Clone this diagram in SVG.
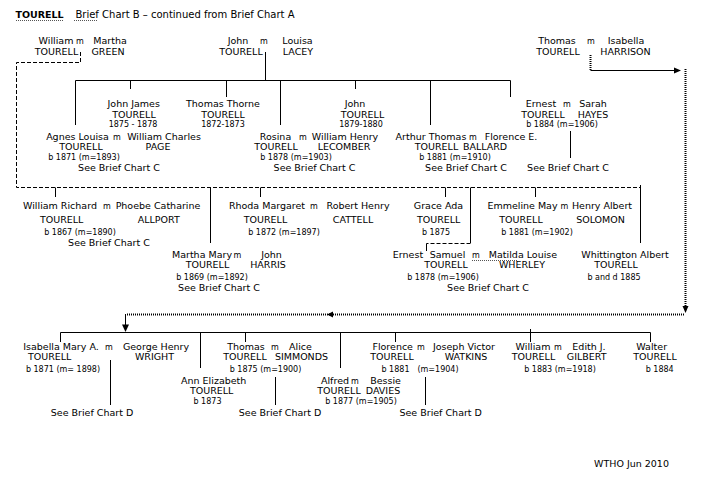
<svg xmlns="http://www.w3.org/2000/svg" width="710" height="484" viewBox="0 0 710 484">
<style>
.t{font-family:"DejaVu Sans","Liberation Sans",sans-serif;font-size:9.5px;fill:#000;text-anchor:middle}
.s{font-size:8px}
.m{font-size:8px}
.b{font-weight:bold}
.ttl{font-size:10px}
.ln{stroke:#000;stroke-width:1;fill:none}
.ds{stroke-dasharray:4 2}
.dt{stroke-width:2;stroke-dasharray:1 1}
.sq{stroke:#555;stroke-width:1;stroke-dasharray:1 1;fill:none}
.ah{fill:#000}
</style>
<rect width="710" height="484" fill="#fff"/>

<g id="title">
<text class="t b" x="39.5" y="18">TOURELL</text>
<text class="t ttl" x="185" y="18">Brief Chart B – continued from Brief Chart A</text>
<path class="sq" d="M16,20.5 H63 M74,20.5 H98"/>
</g>

<g id="connectors">
<path class="ln" d="M265.5,52 V80.5 M75.5,80.5 H510.5 M75.5,80.5 V125 M130.5,80.5 V89 M226.5,80.5 V97 M280.5,80.5 V125 M355.5,80.5 V89 M430.5,80.5 V125 M510.5,80.5 V97 M570.5,131 V158"/>
<path class="ln ds" d="M80.5,52 V62.5 H16.5 V187.5 H640.5"/>
<path class="ln" d="M55.5,187.5 V197 M260.5,187.5 V197 M445.5,187.5 V197 M535.5,187.5 V197 M210.5,187.5 V243 M470.5,187.5 V243 M640.5,185 V243 M426.5,243.5 V251"/>
<path class="ln ds" d="M470.5,243.5 H426.5"/>
<path class="ln" d="M60.5,332.5 H650.5 M60.5,332.5 V342 M200.5,332.5 V368 M245.5,332.5 V342 M340.5,332.5 V368 M395.5,332.5 V342 M530.5,329 V342 M650.5,332.5 V342 M110.5,360 V405 M275.5,377 V405 M425.5,377 V405"/>
<path class="ln dt" d="M590.5,55 V70"/>
<path class="ln" d="M590.5,70.5 H676"/>
<polygon class="ah" points="681,70.5 674,67.5 674,73.5"/>
<path class="ln dt" d="M685.5,69 V306"/>
<polygon class="ah" points="685.5,313 682.5,306 688.5,306"/>
<path class="ln dt" d="M684,314.5 H126"/>
<polygon class="ah" points="327,314.5 333,311.5 333,317.5"/>
<path class="ln" d="M125.5,314 V325"/>
<polygon class="ah" points="125.5,332 122,324.5 129,324.5"/>
</g>

<g id="n_william_martha">
<text class="t" x="56" y="44">William</text><text class="t m" x="80" y="44">m</text><text class="t" x="110" y="44">Martha</text>
<text class="t" x="56.5" y="55">TOURELL</text><text class="t" x="108" y="55">GREEN</text>
</g>
<g id="n_john_louisa">
<text class="t" x="238" y="44">John</text><text class="t m" x="264" y="44">m</text><text class="t" x="297.5" y="44">Louisa</text>
<text class="t" x="241" y="55">TOURELL</text><text class="t" x="298" y="55">LACEY</text>
</g>
<g id="n_thomas_isabella">
<text class="t" x="557" y="44">Thomas</text><text class="t m" x="591" y="44">m</text><text class="t" x="626" y="44">Isabella</text>
<text class="t" x="558" y="55">TOURELL</text><text class="t" x="625.5" y="55">HARRISON</text>
</g>

<g id="n_john_james">
<text class="t" x="133.7" y="107">John James</text>
<text class="t" x="134" y="117.5">TOURELL</text>
<text class="t s" x="133" y="127">1875 - 1878</text>
</g>
<g id="n_thomas_thorne">
<text class="t" x="223" y="107">Thomas Thorne</text>
<text class="t" x="223" y="117.5">TOURELL</text>
<text class="t s" x="223" y="127">1872-1873</text>
</g>
<g id="n_agnes">
<text class="t" x="77.5" y="139.5">Agnes Louisa</text><text class="t m" x="117" y="139.5">m</text><text class="t" x="164" y="139.5">William Charles</text>
<text class="t" x="81" y="150">TOURELL</text><text class="t" x="158" y="150">PAGE</text>
<text class="t s" x="84" y="159.5">b 1871 (m=1893)</text>
<text class="t" x="119" y="170.5">See Brief Chart C</text>
</g>
<g id="n_john2">
<text class="t" x="355" y="107">John</text>
<text class="t" x="362.5" y="117.5">TOURELL</text>
<text class="t s" x="361" y="127">1879-1880</text>
</g>
<g id="n_rosina">
<text class="t" x="275.5" y="139.5">Rosina</text><text class="t m" x="303" y="139.5">m</text><text class="t" x="345" y="139.5">William Henry</text>
<text class="t" x="276" y="150">TOURELL</text><text class="t" x="344" y="150">LECOMBER</text>
<text class="t s" x="296" y="159.5">b 1878 (m=1903)</text>
<text class="t" x="314.5" y="170.5">See Brief Chart C</text>
</g>
<g id="n_arthur">
<text class="t" x="431" y="139.5">Arthur Thomas</text><text class="t m" x="473" y="139.5">m</text><text class="t" x="511" y="139.5">Florence E.</text>
<text class="t" x="436.5" y="150">TOURELL</text><text class="t" x="485" y="150">BALLARD</text>
<text class="t s" x="455" y="159.5">b 1881 (m=1910)</text>
<text class="t" x="466" y="170.5">See Brief Chart C</text>
</g>
<g id="n_ernest_sarah">
<text class="t" x="541" y="107">Ernest</text><text class="t m" x="567" y="107">m</text><text class="t" x="593" y="107">Sarah</text>
<text class="t" x="543" y="117.5">TOURELL</text><text class="t" x="593" y="117.5">HAYES</text>
<text class="t s" x="562" y="127">b 1884 (m=1906)</text>
<text class="t" x="568" y="170.5">See Brief Chart C</text>
</g>

<g id="n_william_richard">
<text class="t" x="60" y="209">William Richard</text><text class="t m" x="107" y="209">m</text><text class="t" x="158" y="209">Phoebe Catharine</text>
<text class="t" x="61.7" y="223">TOURELL</text><text class="t" x="158.7" y="223">ALLPORT</text>
<text class="t s" x="80" y="235">b 1867 (m=1890)</text>
<text class="t" x="109" y="246">See Brief Chart C</text>
</g>
<g id="n_martha_mary">
<text class="t" x="202" y="257.5">Martha Mary</text><text class="t m" x="237.5" y="257.5">m</text><text class="t" x="271.5" y="257.5">John</text>
<text class="t" x="207.5" y="268">TOURELL</text><text class="t" x="268" y="268">HARRIS</text>
<text class="t s" x="212" y="279.5">b 1869 (m=1892)</text>
<text class="t" x="219" y="291">See Brief Chart C</text>
</g>
<g id="n_rhoda">
<text class="t" x="267" y="209">Rhoda Margaret</text><text class="t m" x="314" y="209">m</text><text class="t" x="358" y="209">Robert Henry</text>
<text class="t" x="265.5" y="223">TOURELL</text><text class="t" x="353" y="223">CATTELL</text>
<text class="t s" x="284" y="235">b 1872 (m=1897)</text>
</g>
<g id="n_grace">
<text class="t" x="438.5" y="209">Grace Ada</text>
<text class="t" x="438.7" y="223">TOURELL</text>
<text class="t s" x="436" y="235">b  1875</text>
</g>
<g id="n_ernest_samuel">
<text class="t" x="408" y="257.5">Ernest</text><text class="t" x="447.5" y="257.5">Samuel</text><text class="t m" x="476" y="257.5">m</text><text class="t" x="523" y="257.5">Matilda Louise</text>
<path class="sq" d="M472,260.5 H518"/>
<text class="t" x="446" y="268">TOURELL</text><text class="t" x="522" y="268">WHERLEY</text>
<text class="t s" x="443" y="279.5">b 1878 (m=1906)</text>
<text class="t" x="488" y="291">See Brief Chart C</text>
</g>
<g id="n_emmeline">
<text class="t" x="522.5" y="209">Emmeline May</text><text class="t m" x="564.5" y="209">m</text><text class="t" x="602" y="209">Henry Albert</text>
<text class="t" x="521" y="223">TOURELL</text><text class="t" x="600.5" y="223">SOLOMON</text>
<text class="t s" x="537" y="235">b 1881 (m=1902)</text>
</g>
<g id="n_whittington">
<text class="t" x="625" y="257.5">Whittington Albert</text>
<text class="t" x="616" y="268">TOURELL</text>
<text class="t s" x="614" y="279.5">b and d 1885</text>
</g>

<g id="n_isabella">
<text class="t" x="61" y="349.5">Isabella Mary A.</text><text class="t m" x="109" y="349.5">m</text><text class="t" x="156" y="349.5">George Henry</text>
<text class="t" x="49.7" y="360">TOURELL</text><text class="t" x="154.5" y="360">WRIGHT</text>
<text class="t s" x="63" y="371.5">b 1871 (m= 1898)</text>
<text class="t" x="92" y="416">See Brief Chart D</text>
</g>
<g id="n_ann">
<text class="t" x="213.7" y="384">Ann Elizabeth</text>
<text class="t" x="211.7" y="394">TOURELL</text>
<text class="t s" x="207.5" y="404">b 1873</text>
</g>
<g id="n_thomas_alice">
<text class="t" x="246" y="349.5">Thomas</text><text class="t m" x="275" y="349.5">m</text><text class="t" x="300.5" y="349.5">Alice</text>
<text class="t" x="245" y="360">TOURELL</text><text class="t" x="301.5" y="360">SIMMONDS</text>
<text class="t s" x="265.5" y="371.5">b 1875 (m=1900)</text>
<text class="t" x="280" y="416">See Brief Chart D</text>
</g>
<g id="n_alfred">
<text class="t" x="335" y="384">Alfred</text><text class="t m" x="355" y="384">m</text><text class="t" x="385.5" y="384">Bessie</text>
<text class="t" x="339" y="394">TOURELL</text><text class="t" x="383" y="394">DAVIES</text>
<text class="t s" x="361" y="404">b 1877 (m=1905)</text>
</g>
<g id="n_florence">
<text class="t" x="392.7" y="349.5">Florence</text><text class="t m" x="421" y="349.5">m</text><text class="t" x="464" y="349.5">Joseph Victor</text>
<text class="t" x="392" y="360">TOURELL</text><text class="t" x="466" y="360">WATKINS</text>
<text class="t s" x="395.5" y="371.5">b 1881</text><text class="t s" x="438" y="371.5">(m=1904)</text>
<text class="t" x="440.7" y="416">See Brief Chart D</text>
</g>
<g id="n_william_edith">
<text class="t" x="533" y="349.5">William</text><text class="t m" x="558" y="349.5">m</text><text class="t" x="589" y="349.5">Edith J.</text>
<text class="t" x="533.5" y="360">TOURELL</text><text class="t" x="586.7" y="360">GILBERT</text>
<text class="t s" x="560" y="371.5">b 1883 (m=1918)</text>
</g>
<g id="n_walter">
<text class="t" x="651.7" y="349.5">Walter</text>
<text class="t" x="655" y="360">TOURELL</text>
<text class="t s" x="659.7" y="371.5">b 1884</text>
</g>

<g id="credit">
<text class="t" x="631.5" y="467">WTHO Jun 2010</text>
</g>
</svg>
